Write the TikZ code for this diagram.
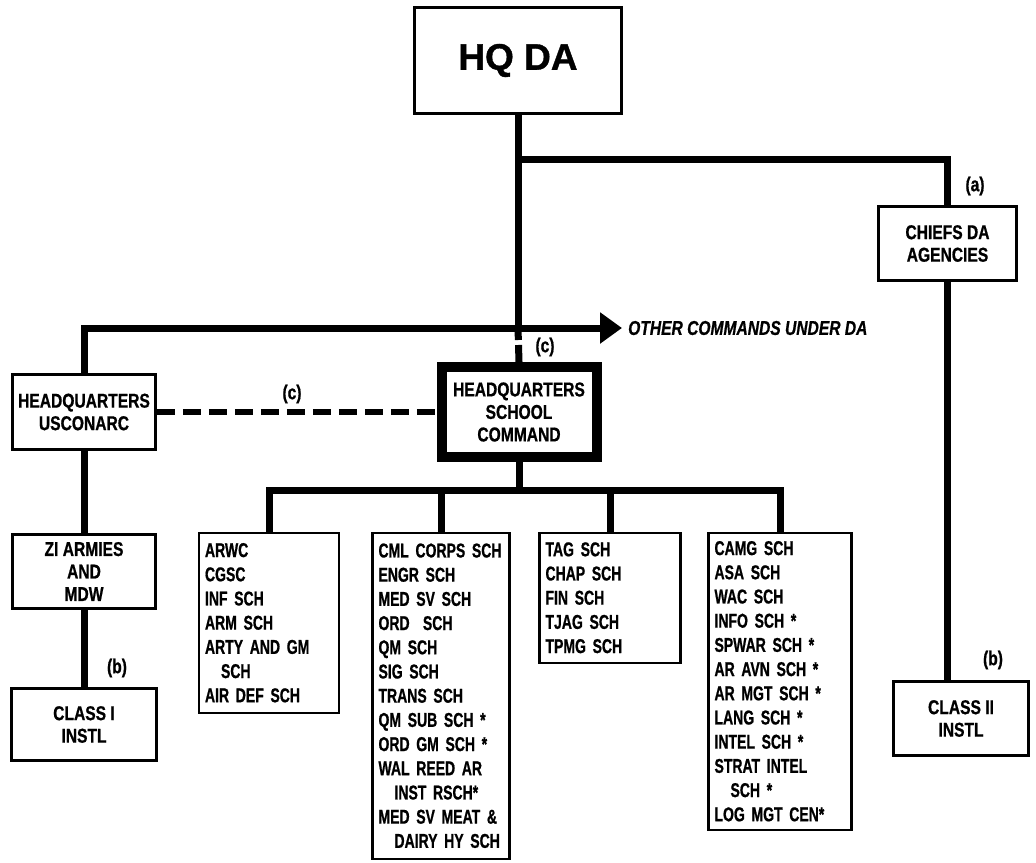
\documentclass[tikz,border=0pt]{standalone}
\usepackage{fontspec}
\usetikzlibrary{arrows.meta}
\newfontfamily\cond{Liberation Sans}[FakeStretch=0.78,FakeBold=0.8,UprightFont=* Bold,ItalicFont=* Bold Italic]
\newfontfamily\narr{Liberation Sans}[FakeStretch=0.70,FakeBold=0.8,UprightFont=* Bold]
\newfontfamily\wide{Liberation Sans}[FakeBold=1,UprightFont=* Bold]
\tikzset{
  box/.style={draw, line width=2.5pt, align=center, inner sep=0pt,
    font=\cond\fontsize{20}{22.5}\selectfont},
  listbox/.style={draw, line width=2.5pt, align=left, anchor=north,
    inner xsep=6pt, inner ysep=0pt, font=\narr\fontsize{20}{24.2}\selectfont},
  conn/.style={line width=7pt},
  lab/.style={font=\cond\fontsize{20}{22}\selectfont, inner sep=0pt},
}
\newcommand{\ind}{\hspace*{16pt}}
\begin{document}
\begin{tikzpicture}[x=1pt,y=-1pt]
\useasboundingbox[fill=white] (0,0) rectangle (1036,862);

% nodes
\node[box, minimum width=207, minimum height=106, font=\wide\fontsize{37}{40}\selectfont] (hq) at (518,60.5) {HQ DA};
\node[box, minimum width=138, minimum height=74] (chiefs) at (947.5,243.5) {CHIEFS DA\\AGENCIES};
\node[box, minimum width=135, minimum height=74] (c2) at (961,718.5) {CLASS II\\INSTL};
\node[box, minimum width=143, minimum height=75] (usc) at (84,412) {HEADQUARTERS\\USCONARC};
\node[box, line width=10pt, minimum width=155, minimum height=90] (sch) at (519,412) {HEADQUARTERS\\SCHOOL\\COMMAND};
\node[box, minimum width=143, minimum height=74] (zi) at (84,571.5) {ZI ARMIES\\AND\\MDW};
\node[box, minimum width=145, minimum height=72] (c1) at (84,724.5) {CLASS I\\INSTL};

\node[listbox, minimum width=140, minimum height=180, text width=128] (arwc) at (269,531.5)
  {ARWC\\CGSC\\INF SCH\\ARM SCH\\ARTY AND GM\\\ind SCH\\AIR DEF SCH};
\node[listbox, minimum width=137, minimum height=326, text width=125] (cml) at (441,531.5)
  {CML CORPS SCH\\ENGR SCH\\MED SV SCH\\ORD\ \ SCH\\QM SCH\\SIG SCH\\TRANS SCH\\QM SUB SCH *\\ORD GM SCH *\\WAL REED AR\\\ind INST RSCH*\\MED SV MEAT \&\\\ind DAIRY HY SCH};
\node[listbox, minimum width=141, minimum height=130, text width=129] (tag) at (610,531.5)
  {TAG SCH\\CHAP SCH\\FIN SCH\\TJAG SCH\\TPMG SCH};
\node[listbox, minimum width=143, minimum height=297, text width=131] (camg) at (780,531.5)
  {CAMG SCH\\ASA SCH\\WAC SCH\\INFO SCH *\\SPWAR SCH *\\AR AVN SCH *\\AR MGT SCH *\\LANG SCH *\\INTEL SCH *\\STRAT INTEL\\\ind SCH *\\LOG MGT CEN*};

% junction coordinates
\coordinate (ja) at (518,159);
\coordinate (jb) at (518,328);
\coordinate (tip) at (622,328);
\coordinate (sb) at (519,490);

% connectors
\draw[conn] (hq.south) -- (jb);
\draw[conn] (ja) -| (chiefs.north);
\draw[conn] (chiefs.south) -- (chiefs.south |- c2.north);
\draw[conn, -{Triangle[length=22pt,width=30pt]}] (usc.north) |- (tip);
\draw[conn, dash pattern=on 12pt off 5pt on 40pt] (jb) -- (sch.north);
\draw[line width=6pt, dash pattern=on 18pt off 8pt] (usc.east) -- (sch.west);
\draw[conn] (usc.south) -- (zi.north);
\draw[conn] (zi.south) -- (c1.north);
\draw[conn] (sch.south) -- (sb);
\draw[conn] (arwc.north) |- (sb) -| (camg.north);
\draw[conn] (cml.north) -- (cml.north |- sb);
\draw[conn] (tag.north) -- (tag.north |- sb);

% labels
\node[lab, anchor=west] (other) at (628,328) {\itshape OTHER COMMANDS UNDER DA};
\node[lab] (la) at (975,186) {(a)};
\node[lab] (lb1) at (117,668) {(b)};
\node[lab] (lb2) at (993,660) {(b)};
\node[lab] (lc1) at (545,347) {(c)};
\node[lab] (lc2) at (292,394) {(c)};
\end{tikzpicture}
\end{document}
